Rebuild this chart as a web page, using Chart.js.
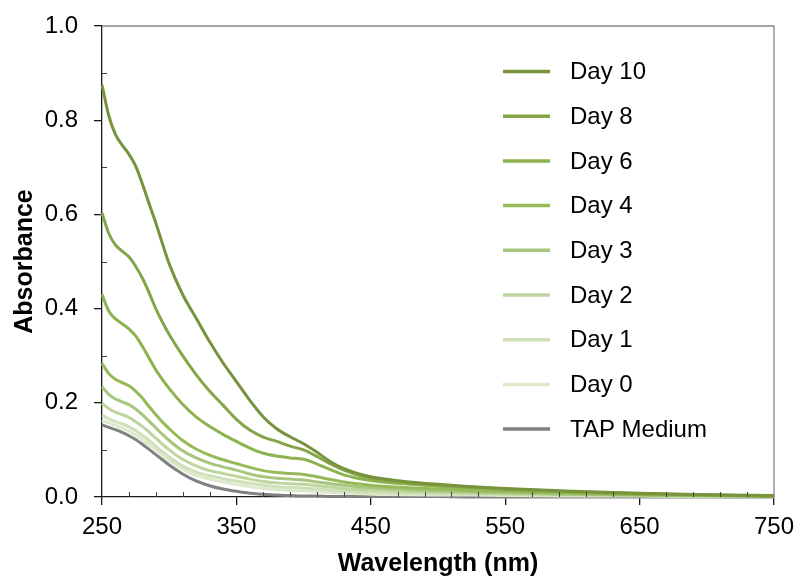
<!DOCTYPE html>
<html>
<head>
<meta charset="utf-8">
<script src="https://cdn.jsdelivr.net/npm/chart.js@4.4.1/dist/chart.umd.min.js"></script>
<style>
  html, body { margin: 0; padding: 0; background: #fff; }
  #wrap { width: 800px; height: 579px; }
</style>
</head>
<body>
<div id="wrap"><canvas id="spectra"></canvas></div>
<script>
// wavelength grid (nm)
const wavelengths = [250, 255, 260, 265, 270, 275, 280, 285, 290, 295, 300, 310, 320, 330, 340, 350, 360, 370,
  380, 390, 400, 410, 420, 430, 440, 450, 475, 500, 525, 550, 600, 650, 700, 750];

// absorbance per culture day
const day10 = [0.875, 0.81, 0.77, 0.747, 0.728, 0.703, 0.665, 0.623, 0.582, 0.538, 0.495, 0.43, 0.38, 0.33, 0.285, 0.245, 0.205, 0.17,
  0.145, 0.128, 0.113, 0.095, 0.075, 0.06, 0.05, 0.043, 0.033, 0.027, 0.022, 0.018, 0.012, 0.008, 0.005, 0.003];
const day8 = [0.603, 0.56, 0.535, 0.522, 0.51, 0.49, 0.465, 0.434, 0.40, 0.371, 0.345, 0.30, 0.26, 0.225, 0.195, 0.165, 0.142, 0.127,
  0.118, 0.108, 0.10, 0.086, 0.07, 0.057, 0.047, 0.040, 0.031, 0.025, 0.021, 0.017, 0.011, 0.007, 0.004, 0.002];
const day6 = [0.43, 0.395, 0.378, 0.368, 0.357, 0.342, 0.32, 0.295, 0.27, 0.249, 0.23, 0.197, 0.17, 0.15, 0.133, 0.118, 0.104, 0.093,
  0.087, 0.083, 0.08, 0.07, 0.058, 0.047, 0.04, 0.035, 0.028, 0.023, 0.019, 0.015, 0.01, 0.006, 0.004, 0.002];
const day4 = [0.284, 0.262, 0.25, 0.243, 0.236, 0.225, 0.21, 0.192, 0.175, 0.159, 0.145, 0.12, 0.102, 0.089, 0.079, 0.071, 0.063, 0.056,
  0.052, 0.05, 0.048, 0.043, 0.037, 0.032, 0.028, 0.025, 0.02, 0.017, 0.014, 0.012, 0.008, 0.005, 0.003, 0.002];
const day3 = [0.234, 0.218, 0.208, 0.202, 0.196, 0.187, 0.175, 0.161, 0.147, 0.133, 0.12, 0.098, 0.083, 0.072, 0.064, 0.057, 0.049, 0.043,
  0.04, 0.038, 0.036, 0.032, 0.028, 0.025, 0.022, 0.02, 0.016, 0.013, 0.011, 0.009, 0.006, 0.004, 0.003, 0.001];
const day2 = [0.199, 0.188, 0.18, 0.175, 0.169, 0.16, 0.15, 0.138, 0.125, 0.112, 0.1, 0.08, 0.066, 0.056, 0.05, 0.044, 0.038, 0.033,
  0.03, 0.028, 0.027, 0.024, 0.021, 0.018, 0.016, 0.015, 0.012, 0.01, 0.008, 0.007, 0.005, 0.003, 0.002, 0.001];
const day1 = [0.174, 0.166, 0.16, 0.155, 0.149, 0.141, 0.131, 0.12, 0.108, 0.096, 0.085, 0.066, 0.053, 0.045, 0.039, 0.034, 0.029, 0.025,
  0.022, 0.02, 0.019, 0.017, 0.015, 0.013, 0.011, 0.01, 0.008, 0.007, 0.006, 0.005, 0.004, 0.003, 0.002, 0.001];
const day0 = [0.163, 0.157, 0.152, 0.146, 0.14, 0.132, 0.122, 0.111, 0.1, 0.089, 0.078, 0.059, 0.046, 0.038, 0.032, 0.027, 0.022, 0.018,
  0.016, 0.014, 0.013, 0.011, 0.01, 0.008, 0.007, 0.006, 0.005, 0.004, 0.004, 0.003, 0.002, 0.002, 0.001, 0.001];
const tapMedium = [0.153, 0.148, 0.143, 0.137, 0.13, 0.122, 0.112, 0.101, 0.09, 0.079, 0.068, 0.049, 0.034, 0.024, 0.017, 0.012, 0.008, 0.006,
  0.004, 0.003, 0.002, 0.002, 0.001, 0.001, 0.001, 0.001, 0.001, 0.001, 0, 0, 0, 0, 0, 0];

const seriesLabels = ['Day 10', 'Day 8', 'Day 6', 'Day 4', 'Day 3', 'Day 2', 'Day 1', 'Day 0', 'TAP Medium'];
const seriesValues = [day10, day8, day6, day4, day3, day2, day1, day0, tapMedium];
const seriesColors = ['#77933c', '#86a548', '#8db24e', '#95bb58', '#a8c67e', '#bdd69d', '#cfe0b9', '#dde8cd', '#808080'];

const xTicks = [250, 350, 450, 550, 650, 750];
const yTicks = [0, 0.2, 0.4, 0.6, 0.8, 1.0];
const xMinorStep = 20;
const yMinorStep = 0.1;

const FONT = "'Liberation Sans', Arial, sans-serif";
const AXIS_COLOR = '#1a1a1a';
const FRAME_COLOR = '#888888';

const datasets = seriesLabels.map((label, i) => ({
  label,
  data: wavelengths.map((w, j) => ({ x: w, y: seriesValues[i][j] })),
  borderColor: seriesColors[i],
  backgroundColor: seriesColors[i],
  borderWidth: 3,
  pointRadius: 0,
  cubicInterpolationMode: 'monotone',
  clip: 4
}));

// top/right frame, inward minor ticks and the in-plot legend
const plotExtras = {
  id: 'plotExtras',
  afterDraw(chart) {
    const { ctx, chartArea: a, scales } = chart;
    const xs = scales.x, ys = scales.y;
    ctx.save();

    ctx.strokeStyle = FRAME_COLOR;
    ctx.lineWidth = 1.3;
    ctx.beginPath();
    ctx.moveTo(a.left, a.top);
    ctx.lineTo(a.right, a.top);
    ctx.lineTo(a.right, a.bottom);
    ctx.stroke();

    ctx.strokeStyle = '#404040';
    ctx.lineWidth = 1;
    ctx.beginPath();
    for (let v = xs.min + xMinorStep; v < xs.max; v += xMinorStep) {
      if (Math.abs((v - xs.min) % 100) < 1e-6) continue;
      const px = Math.round(xs.getPixelForValue(v)) + 0.5;
      ctx.moveTo(px, a.bottom);
      ctx.lineTo(px, a.bottom - 5);
    }
    for (let k = 1; k < 10; k += 2) {
      const py = Math.round(ys.getPixelForValue(k * yMinorStep)) + 0.5;
      ctx.moveTo(a.left, py);
      ctx.lineTo(a.left + 5, py);
    }
    ctx.stroke();

    const lx = a.left + 401, ly = a.top + 45.5, gap = 44.7;
    ctx.font = '24px ' + FONT;
    ctx.textBaseline = 'middle';
    ctx.fillStyle = '#000';
    chart.data.datasets.forEach((ds, i) => {
      const y = ly + i * gap;
      ctx.strokeStyle = ds.borderColor;
      ctx.lineWidth = 3.5;
      ctx.beginPath();
      ctx.moveTo(lx, y);
      ctx.lineTo(lx + 47, y);
      ctx.stroke();
      ctx.fillText(ds.label, lx + 67, y + 1);
    });
    ctx.restore();
  }
};

new Chart(document.getElementById('spectra'), {
  type: 'line',
  data: { datasets },
  options: {
    responsive: true,
    maintainAspectRatio: false,
    animation: false,
    layout: { padding: { top: 26, right: 26, left: 0, bottom: 0 } },
    plugins: { legend: { display: false }, tooltip: { enabled: false } },
    scales: {
      x: {
        type: 'linear',
        min: 250,
        max: 750,
        afterBuildTicks: s => { s.ticks = xTicks.map(v => ({ value: v })); },
        afterFit: s => { s.height = 82; s.paddingLeft = 0; s.paddingRight = 0; },
        grid: { drawOnChartArea: false, drawTicks: true, tickLength: 8, color: AXIS_COLOR, lineWidth: 1.3 },
        border: { color: AXIS_COLOR, width: 1.3 },
        ticks: { color: '#000', padding: 8, maxRotation: 0, font: { family: FONT, size: 24 } },
        title: {
          display: true,
          text: 'Wavelength (nm)',
          color: '#000',
          font: { family: FONT, size: 25, weight: 'bold' },
          padding: { top: 0, bottom: 0 }
        }
      },
      y: {
        min: 0,
        max: 1,
        afterBuildTicks: s => { s.ticks = yTicks.map(v => ({ value: v })); },
        afterFit: s => { s.width = 102; s.paddingTop = 0; s.paddingBottom = 0; },
        grid: { drawOnChartArea: false, drawTicks: true, tickLength: 8, color: AXIS_COLOR, lineWidth: 1.3 },
        border: { color: AXIS_COLOR, width: 1.3 },
        ticks: { color: '#000', padding: 16, font: { family: FONT, size: 24 }, callback: v => v.toFixed(1) },
        title: {
          display: true,
          text: 'Absorbance',
          color: '#000',
          font: { family: FONT, size: 25, weight: 'bold' },
          padding: { top: 10, bottom: 0 }
        }
      }
    }
  },
  plugins: [plotExtras]
});
</script>
</body>
</html>
